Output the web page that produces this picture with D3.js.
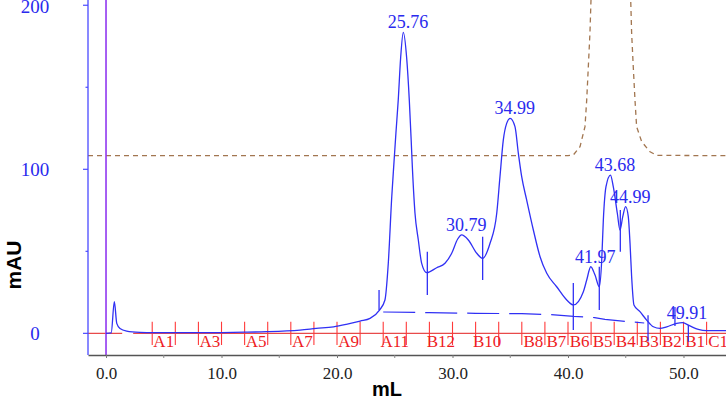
<!DOCTYPE html>
<html>
<head>
<meta charset="utf-8">
<script src="https://cdn.jsdelivr.net/npm/d3@7"></script>
<style>
  html, body { margin: 0; padding: 0; background: #fff; }
  svg { display: block; }
</style>
</head>
<body>
<svg id="chart" width="726" height="400"></svg>
<script>
// ---------- data ----------
const curveML = [0.0, 0.45, 0.72, 0.93, 1.21, 1.79, 2.94, 4.1, 6, 8, 10, 12, 13.9, 16.8, 18.2, 19.7, 20.8, 22.0, 22.86, 23.68,
  24.15, 24.44, 24.74, 24.94, 25.1, 25.3, 25.51, 25.74, 26.03, 26.26, 26.42, 26.5, 26.75, 27.04, 27.33, 27.77,
  28.63, 29.35, 29.93, 30.45, 30.79, 31.37, 32.1, 32.6, 33.25, 33.83, 34.11, 34.4, 34.69, 34.99, 35.41, 35.7,
  35.99, 36.42, 37.0, 37.58, 38.16, 39.02, 39.89, 40.46, 41.33, 41.62, 41.97, 42.34, 42.71, 42.92, 43.06, 43.29,
  43.68, 43.92, 44.27, 44.5, 44.74, 44.99, 45.22, 45.37, 45.51, 45.71, 46.23, 46.81, 47.39, 47.97, 48.55, 49.41,
  49.91, 50.56, 51.28, 52.0, 53.7];
const curveMAU = [0.0, 0.3, 19.3, 6.1, 3.0, 1.4, 0.6, 0.4, 0.4, 0.4, 0.5, 0.7, 1.0, 2.0, 3.0, 4.0, 5.5, 7.5, 9.1, 14.2,
  20.3, 42.7, 83.3, 105, 122, 142, 168, 183.5, 168, 142, 118, 105, 73.4, 56.9, 42.7, 37.0,
  40.0, 42.7, 48.8, 57.5, 60.0, 56.9, 48.8, 45.7, 54.9, 73.2, 95.5, 117.9, 128, 131.1, 126, 109.8,
  95.5, 81.3, 63, 46.7, 36.6, 28.4, 20.3, 17.3, 25.4, 32.5, 40.6, 35.5, 28.4, 44.7, 69.1, 89.4,
  96.5, 89.4, 73.2, 63, 71.1, 77.2, 71.1, 54.9, 34.5, 17.3, 13.2, 8.1, 4.0, 3.0, 4.0, 6.1,
  6.5, 4.5, 2.4, 1.6, 1.6];

const condML = [-1.56, 40.0, 40.46, 41.04, 41.47, 41.62, 41.76, 41.9, 41.99, 42.2, 45.2, 45.43, 45.51, 45.65, 45.8, 45.94, 46.38, 47.1, 47.68, 53.7];
const condMAU = [108.3, 108.3, 108.7, 113.8, 126, 142.3, 162.6, 183, 203, 240, 240, 203, 183, 162.6, 142.3, 126, 116.8, 110.7, 108.5, 108.3];

const baseML = [24.0, 28, 32, 36, 38.5, 40.5, 42.3, 43.2, 44.5, 46.6];
const baseMAU = [13.0, 12.6, 12.2, 12.0, 11.4, 10.3, 9.6, 8.5, 7.6, 6.3];

const peakNames = ["25.76", "30.79", "34.99", "41.97", "43.68", "44.99", "49.91"];
const peakML = [25.76, 30.79, 34.99, 41.97, 43.68, 44.99, 49.91];
const peakMAU = [183.5, 60.0, 131.1, 40.6, 96.5, 77.2, 6.5];

const dropML = [23.64, 27.82, 32.61, 40.46, 42.71, 44.53, 46.93, 49.26, 50.42];
const dropTop = [26.4, 49.8, 58.9, 30.7, 40.6, 75.2, 11.0, 16.0, 5.1];
const dropBottom = [14.2, 23.4, 32.5, 2.0, 14.2, 49.8, -5.0, 4.5, -5.1];

const fracStart = [4, 6, 8, 10, 12, 14, 16, 18, 20, 22, 24, 26, 28, 30, 32, 34, 36, 38, 40, 42, 44, 46, 48, 50, 52];
const fracLabels = ["A1", "", "A3", "", "A5", "", "A7", "", "A9", "", "A11", "", "B12", "", "B10", "", "B8", "B7", "B6", "B5", "B4", "B3", "B2", "B1", "C1"];
const fracWidth = 2;

const xTicks = [0, 10, 20, 30, 40, 50];
const xMinorTicks = [5, 15, 25, 35, 45];
const yTicks = [0, 100, 200];
const yMinorTicks = [50, 150];

// ---------- layout ----------
const pL = 88, pR = 726, pT = 0, pB = 355;
const svg = d3.select("#chart");
const x = d3.scaleLinear().domain([-1.56, 53.68]).range([pL, pR]);
const y = d3.scaleLinear().domain([-13.2, 203.2]).range([pB, pT]);

const BLUE = "#3030f4";
const serif = "'Liberation Serif', 'Times New Roman', serif";

svg.append("defs").append("clipPath").attr("id", "plotclip")
  .append("rect").attr("x", pL).attr("y", pT).attr("width", pR - pL).attr("height", pB - pT);

const plot = svg.append("g").attr("clip-path", "url(#plotclip)");

// conductivity (brown dashed)
const line = d3.line().x(d => x(d[0])).y(d => y(d[1]));
plot.append("path")
  .attr("d", line(condML.map((v, i) => [v, condMAU[i]])))
  .attr("fill", "none").attr("stroke", "#a27650").attr("stroke-width", 1.3)
  .attr("stroke-dasharray", "5,4");

// red fraction baseline
plot.append("line").attr("x1", x(-1.56)).attr("x2", x(1.4)).attr("y1", y(0)).attr("y2", y(0))
  .attr("stroke", "#e84a4a").attr("stroke-width", 1.3);
plot.append("line").attr("x1", x(2.35)).attr("x2", x(53.7)).attr("y1", y(0)).attr("y2", y(0))
  .attr("stroke", "#e84a4a").attr("stroke-width", 1.3);

// fraction ticks
const fracBounds = fracStart.concat([fracStart[fracStart.length - 1] + fracWidth]);
plot.selectAll("line.frac").data(fracBounds).join("line").attr("class", "frac")
  .attr("x1", d => x(d)).attr("x2", d => x(d))
  .attr("y1", y(7.1)).attr("y2", y(-7.1))
  .attr("stroke", "#ff3a3a").attr("stroke-width", 1.1);

// fraction labels
plot.selectAll("text.frac").data(fracStart.map((s, i) => ({ s, l: fracLabels[i] })).filter(d => d.l))
  .join("text").attr("class", "frac")
  .attr("x", d => x(d.s + fracWidth / 2)).attr("y", y(0) + 14)
  .attr("text-anchor", "middle")
  .attr("font-family", serif).attr("font-size", 17).attr("fill", "#ee1c24")
  .text(d => d.l);

// integration baseline (long dashes)
plot.append("path")
  .attr("d", line(baseML.map((v, i) => [v, baseMAU[i]])))
  .attr("fill", "none").attr("stroke", BLUE).attr("stroke-width", 1.2)
  .attr("stroke-dasharray", "32,10");

// injection marker
plot.append("line").attr("x1", x(0)).attr("x2", x(0)).attr("y1", pT).attr("y2", pB)
  .attr("stroke", "#9038f0").attr("stroke-width", 1.6);

// UV curve
plot.append("path")
  .attr("d", d3.line().curve(d3.curveMonotoneX).x(d => x(d[0])).y(d => y(d[1]))(curveML.map((v, i) => [v, curveMAU[i]])))
  .attr("fill", "none").attr("stroke", BLUE).attr("stroke-width", 1.3);

// drop lines
plot.selectAll("line.drop").data(dropML.map((v, i) => ({ v, t: dropTop[i], b: dropBottom[i] })))
  .join("line").attr("class", "drop")
  .attr("x1", d => x(d.v)).attr("x2", d => x(d.v))
  .attr("y1", d => y(d.t)).attr("y2", d => y(d.b))
  .attr("stroke", BLUE).attr("stroke-width", 1.3);

// peak labels
svg.selectAll("text.peak").data(peakNames.map((n, i) => ({ n, v: peakML[i], h: peakMAU[i] })))
  .join("text").attr("class", "peak")
  .attr("x", d => x(d.v) + 4.5).attr("y", d => y(d.h) - 4)
  .attr("text-anchor", "middle")
  .attr("font-family", serif).attr("font-size", 18).attr("fill", "#2a2aee")
  .text(d => d.n);

// x axis
const xAxis = d3.axisBottom(x).tickValues(xTicks).tickFormat(d3.format(".1f")).tickSize(3).tickSizeOuter(0).tickPadding(9);
const gx = svg.append("g").attr("transform", `translate(0,${pB})`).call(xAxis);
gx.select(".domain").attr("stroke", "#555").attr("stroke-width", 1.3);
gx.selectAll(".tick line").attr("stroke", "#777");
gx.selectAll(".tick text").attr("font-family", serif).attr("font-size", 17).attr("fill", "#222");
svg.selectAll("line.xminor").data(xMinorTicks).join("line").attr("class", "xminor")
  .attr("x1", d => x(d)).attr("x2", d => x(d)).attr("y1", pB).attr("y2", pB + 3)
  .attr("stroke", "#888");

// y axis
svg.append("line").attr("x1", pL).attr("x2", pL).attr("y1", pT).attr("y2", pB)
  .attr("stroke", "#4a4aff").attr("stroke-width", 1.3);
svg.selectAll("line.ymaj").data(yTicks).join("line").attr("class", "ymaj")
  .attr("x1", pL - 5).attr("x2", pL).attr("y1", d => y(d)).attr("y2", d => y(d))
  .attr("stroke", "#4a4aff").attr("stroke-width", 1.2);
svg.selectAll("line.ymin").data(yMinorTicks).join("line").attr("class", "ymin")
  .attr("x1", pL - 2.5).attr("x2", pL).attr("y1", d => y(d)).attr("y2", d => y(d))
  .attr("stroke", "#4a4aff").attr("stroke-width", 1.2);
svg.selectAll("text.ylab").data(yTicks).join("text").attr("class", "ylab")
  .attr("x", 35).attr("y", d => Math.max(y(d) + 7, 13)).attr("text-anchor", "middle")
  .attr("font-family", serif).attr("font-size", 19).attr("fill", "#2a2aee")
  .text(d => d3.format("d")(d));

// axis titles
svg.append("text").attr("x", 387).attr("y", 396).attr("text-anchor", "middle")
  .attr("font-family", "'Liberation Sans', Arial, sans-serif").attr("font-weight", "bold")
  .attr("font-size", 20).attr("fill", "#000").text("mL");
svg.append("text").attr("transform", "translate(21,265) rotate(-90)").attr("text-anchor", "middle")
  .attr("font-family", "'Liberation Sans', Arial, sans-serif").attr("font-weight", "bold")
  .attr("font-size", 21).attr("fill", "#000").text("mAU");
</script>
</body>
</html>
